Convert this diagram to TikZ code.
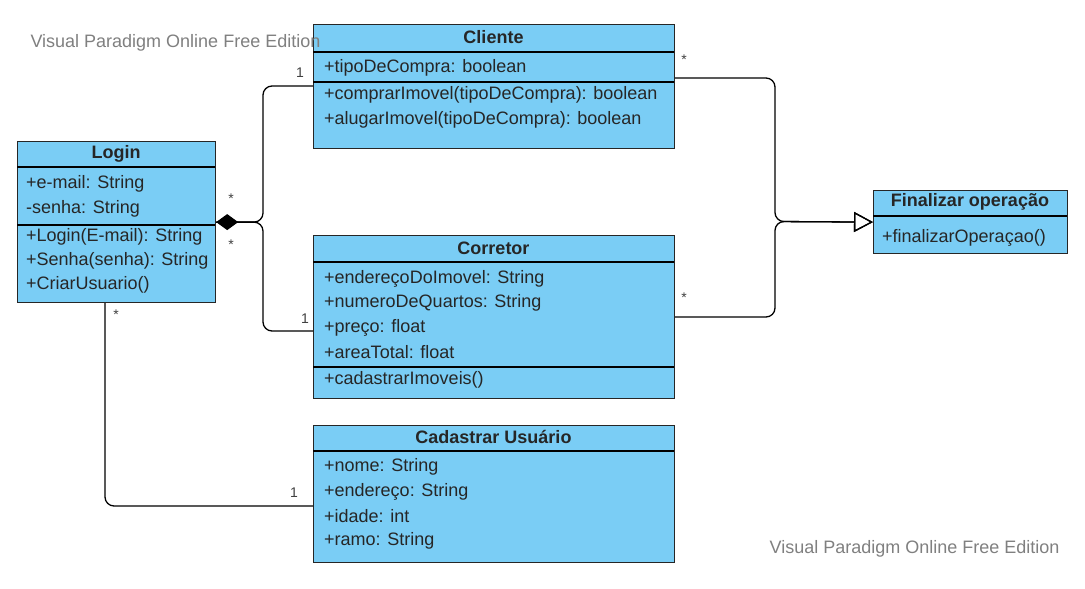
\documentclass[tikz,border=0pt]{standalone}
\usepackage{fontspec}
\setmainfont{Liberation Sans}
\usetikzlibrary{arrows.meta}
\definecolor{umlblue}{RGB}{122,205,245}
\definecolor{vpgray}{RGB}{128,128,128}

\begin{document}
\begin{tikzpicture}[x=1pt, y=-1pt,
    classbox/.style={draw=black!85, fill=umlblue, line width=1.2pt, anchor=north west, inner sep=0pt},
    classtitle/.style={font=\fontsize{18}{21}\selectfont\bfseries, text=black!85},
    member/.style={anchor=west, inner sep=0pt, font=\fontsize{18}{21}\selectfont, text=black!85},
    mult/.style={font=\fontsize{14}{16}\selectfont, text=black!75},
    link/.style={line width=1.3pt, rounded corners=9pt},
    watermark/.style={font=\fontsize{18}{21}\selectfont, text=vpgray}]
    \useasboundingbox[fill=white] (0,0) rectangle (1085,589);

    % Login
    \node[classbox, minimum width=198pt, minimum height=161pt] (login) at (17,141) {};
    \draw[line width=1.2pt] (17,167) -- (215,167);
    \draw[line width=1.2pt] (17,225) -- (215,225);
    \node[classtitle] (loginT) at (116,154) {Login};
    \node[member] (loginA1) at (26,184) {+e-mail: String};
    \node[member] (loginA2) at (26,209) {-senha: String};
    \node[member] (loginM1) at (26,237) {+Login(E-mail): String};
    \node[member] (loginM2) at (26,261) {+Senha(senha): String};
    \node[member] (loginM3) at (26,285) {+CriarUsuario()};

    % Cliente
    \node[classbox, minimum width=361pt, minimum height=124pt] (cliente) at (313,24) {};
    \draw[line width=1.2pt] (313,52) -- (674,52);
    \draw[line width=1.2pt] (313,82) -- (674,82);
    \node[classtitle] (clienteT) at (493.5,37) {Cliente};
    \node[member] (clienteA1) at (324,68) {+tipoDeCompra: boolean};
    \node[member] (clienteM1) at (324,95) {+comprarImovel(tipoDeCompra): boolean};
    \node[member] (clienteM2) at (324,120) {+alugarImovel(tipoDeCompra): boolean};

    % Corretor
    \node[classbox, minimum width=361pt, minimum height=163pt] (corretor) at (313,235) {};
    \draw[line width=1.2pt] (313,262) -- (674,262);
    \draw[line width=1.2pt] (313,367) -- (674,367);
    \node[classtitle] (corretorT) at (493.5,248) {Corretor};
    \node[member] (corretorA1) at (324,279) {+endereçoDoImovel: String};
    \node[member] (corretorA2) at (324,303) {+numeroDeQuartos: String};
    \node[member] (corretorA3) at (324,328) {+preço: float};
    \node[member] (corretorA4) at (324,352) {+areaTotal: float};
    \node[member] (corretorM1) at (324,380) {+cadastrarImoveis()};

    % Cadastrar Usuario
    \node[classbox, minimum width=361pt, minimum height=137pt] (cadastro) at (313,425) {};
    \draw[line width=1.2pt] (313,451) -- (674,451);
    \node[classtitle] (cadastroT) at (493.5,437) {Cadastrar Usuário};
    \node[member] (cadastroA1) at (324,467) {+nome: String};
    \node[member] (cadastroA2) at (324,492) {+endereço: String};
    \node[member] (cadastroA3) at (324,516) {+idade: int};
    \node[member] (cadastroA4) at (324,541) {+ramo: String};

    % Finalizar operacao
    \node[classbox, minimum width=194pt, minimum height=63pt] (final) at (873,190) {};
    \draw[line width=1.2pt] (873,216) -- (1067,216);
    \node[classtitle] (finalT) at (970,202) {Finalizar operação};
    \node[member] (finalM1) at (882,238) {+finalizarOperaçao()};

    % composicao Login -> Cliente / Corretor
    \draw[link, {Diamond[length=22pt, width=16pt]}-] (login.east) -| (263,86) -- (cliente.west |- 0,86);
    \draw[link] (login.east) -| (263,331) -- (corretor.west |- 0,331);
    % heranca -> Finalizar operacao
    \draw[link, -{Triangle[open, length=19pt, width=20pt, line width=1.3pt]}] (cliente.east |- 0,78) -| (775,221.5) -- (final.west);
    \draw[link, -{Triangle[open, length=19pt, width=20pt, line width=1.3pt]}] (corretor.east |- 0,317) -| (775,221.5) -- (final.west);
    % Login -> Cadastrar Usuario
    \draw[link] (login.south -| 105,0) |- (cadastro.west |- 0,506);

    % multiplicidades
    \node[mult] (m1) at (300,73) {1};
    \node[mult] (m2) at (231,199) {*};
    \node[mult] (m3) at (231,245) {*};
    \node[mult] (m4) at (305,319) {1};
    \node[mult] (m5) at (684,60) {*};
    \node[mult] (m6) at (684,298) {*};
    \node[mult] (m7) at (116,315) {*};
    \node[mult] (m8) at (294,493) {1};

    % watermarks
    \node[watermark, anchor=west] (wmtop) at (27,43) {Visual Paradigm Online Free Edition};
    \node[watermark, anchor=east] (wmbot) at (1063,549) {Visual Paradigm Online Free Edition};
\end{tikzpicture}
\end{document}
